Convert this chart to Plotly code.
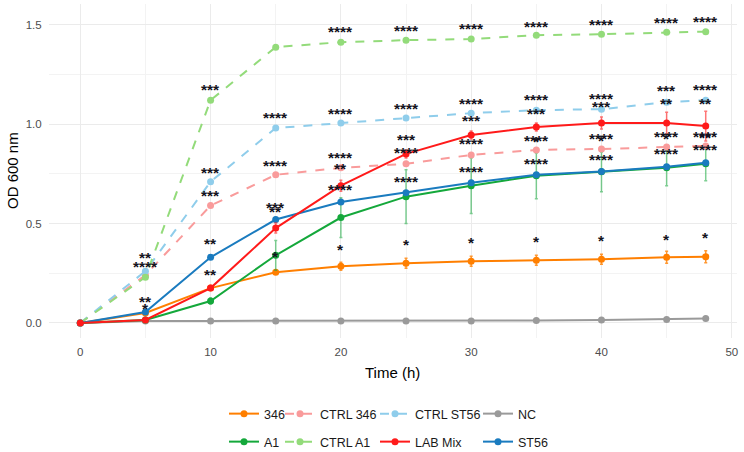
import plotly.graph_objects as go

time = [0, 5, 10, 15, 20, 25, 30, 35, 40, 45, 48]

series_names = ["346", "CTRL 346", "CTRL ST56", "NC", "A1", "CTRL A1", "LAB Mix", "ST56"]

v_346 = [0, 0.05, 0.175, 0.255, 0.285, 0.30, 0.31, 0.315, 0.32, 0.33, 0.333]
e_346 = [0, 0.005, 0.01, 0.01, 0.02, 0.025, 0.025, 0.025, 0.025, 0.03, 0.03]
v_ctrl346 = [0, 0.24, 0.59, 0.745, 0.78, 0.80, 0.845, 0.87, 0.875, 0.885, 0.89]
e_ctrl346 = [0, 0, 0, 0, 0, 0, 0, 0, 0, 0, 0]
v_ctrlst56 = [0, 0.26, 0.71, 0.98, 1.005, 1.03, 1.055, 1.07, 1.075, 1.11, 1.12]
e_ctrlst56 = [0, 0, 0, 0, 0, 0, 0, 0, 0, 0, 0]
v_nc = [0, 0.01, 0.01, 0.01, 0.01, 0.01, 0.01, 0.012, 0.014, 0.017, 0.022]
e_nc = [0, 0, 0, 0, 0, 0, 0, 0, 0, 0, 0]
v_a1 = [0, 0.015, 0.11, 0.34, 0.53, 0.635, 0.69, 0.74, 0.76, 0.78, 0.80]
e_a1 = [0, 0.005, 0.015, 0.075, 0.10, 0.135, 0.14, 0.115, 0.10, 0.09, 0.085]
v_ctrla1 = [0, 0.23, 1.12, 1.387, 1.412, 1.422, 1.428, 1.447, 1.452, 1.462, 1.465]
e_ctrla1 = [0, 0, 0, 0, 0, 0, 0, 0, 0, 0, 0]
v_lab = [0, 0.015, 0.175, 0.477, 0.69, 0.85, 0.945, 0.985, 1.005, 1.005, 0.99]
e_lab = [0, 0.003, 0.01, 0.025, 0.028, 0.02, 0.02, 0.02, 0.03, 0.055, 0.075]
v_st56 = [0, 0.055, 0.33, 0.52, 0.608, 0.655, 0.705, 0.745, 0.762, 0.786, 0.805]
e_st56 = [0, 0.005, 0.01, 0.01, 0.01, 0.01, 0.01, 0.01, 0.01, 0.01, 0.01]

values = [v_346, v_ctrl346, v_ctrlst56, v_nc, v_a1, v_ctrla1, v_lab, v_st56]
errors = [e_346, e_ctrl346, e_ctrlst56, e_nc, e_a1, e_ctrla1, e_lab, e_st56]
colors = ["#FF7F00", "#F99B9B", "#8FCDEB", "#9A9A9A", "#14A83B", "#93DB7A", "#FF1A1A", "#1A7BBF"]
err_colors = ["rgba(255,127,0,0.8)", "rgba(249,155,155,0.6)", "rgba(143,205,235,0.6)",
              "rgba(154,154,154,0.6)", "rgba(20,168,59,0.55)", "rgba(147,219,122,0.6)",
              "rgba(255,26,26,0.6)", "rgba(26,123,191,0.6)"]
dashes = ["solid", "dash", "dash", "solid", "solid", "dash", "solid", "solid"]

x_ticks = [0, 10, 20, 30, 40, 50]
y_ticks = [0, 0.5, 1.0, 1.5]
y_tick_labels = ["0.0", "0.5", "1.0", "1.5"]
x_title = "Time (h)"
y_title = "OD 600 nm"

# significance labels
ann_x = [5, 5, 5, 5,
         10, 10, 10, 10, 10,
         15, 15, 15, 15, 15,
         20, 20, 20, 20, 20, 20,
         25, 25, 25, 25, 25, 25,
         30, 30, 30, 30, 30, 30,
         35, 35, 35, 35, 35, 35, 35,
         40, 40, 40, 40, 40, 40, 40,
         45, 45, 45, 45, 45, 45, 45,
         48, 48, 48, 48, 48, 48, 48]
ann_y = [0.337, 0.296, 0.116, 0.080,
         1.186, 0.769, 0.653, 0.407, 0.251,
         1.045, 0.804, 0.593, 0.568, 0.342,
         1.477, 1.065, 0.844, 0.789, 0.683, 0.377,
         1.482, 1.090, 0.935, 0.869, 0.719, 0.402,
         1.492, 1.116, 1.030, 0.910, 0.774, 0.412,
         1.503, 1.136, 1.065, 0.930, 0.920, 0.814, 0.417,
         1.513, 1.141, 1.101, 0.940, 0.930, 0.834, 0.422,
         1.523, 1.181, 1.116, 0.950, 0.940, 0.864, 0.432,
         1.528, 1.186, 1.116, 0.950, 0.945, 0.884, 0.442]
ann_text = ["**", "****", "**", "*",
            "***", "***", "***", "**", "**",
            "****", "****", "***", "**", "*",
            "****", "****", "****", "**", "****", "*",
            "****", "****", "***", "****", "****", "*",
            "****", "****", "***", "****", "****", "*",
            "****", "****", "***", "****", "*", "****", "*",
            "****", "****", "***", "****", "*", "****", "*",
            "****", "***", "**", "****", "*", "****", "*",
            "****", "****", "**", "****", "**", "****", "*"]

FONT = "Liberation Sans, Arial, sans-serif"

fig = go.Figure()

# legend placement (container px)
leg_text_x = [265, 321, 416, 519, 265, 321, 416, 519]
leg_text_y = [414, 414, 414, 414, 442, 442, 442, 442]

draw_order = [3, 0, 4, 1, 2, 5, 7, 6]
for i in draw_order:
    lname = "legend" if i == 0 else f"legend{i+1}"
    fig.add_trace(go.Scatter(
        x=time, y=values[i], name=series_names[i],
        mode="lines+markers",
        line=dict(color=colors[i], width=2, dash=dashes[i]),
        marker=dict(color=colors[i], size=7),
        error_y=dict(type="data", array=errors[i], visible=True,
                     color=err_colors[i], thickness=1.5, width=1.5),
        legend=lname,
    ))

for x, y, t in zip(ann_x, ann_y, ann_text):
    fig.add_annotation(x=x, y=y, text="<b>" + t + "</b>", showarrow=False,
                       xanchor="center", yanchor="middle",
                       yshift=-2, font=dict(family=FONT, size=15.5, color="#141420"))

# axis titles
fig.add_annotation(xref="paper", yref="paper", x=(12 - 49) / 688, y=0.5, text=y_title,
                   textangle=-90, showarrow=False, xanchor="center", yanchor="middle",
                   font=dict(family=FONT, size=15, color="black"))
fig.add_annotation(xref="paper", yref="paper", x=(392 - 49) / 688, y=(338 - 372) / 334, text=x_title,
                   showarrow=False, xanchor="center", yanchor="middle",
                   font=dict(family=FONT, size=15, color="black"))

layout_legends = {}
for i in range(8):
    lname = "legend" if i == 0 else f"legend{i+1}"
    layout_legends[lname] = dict(
        xref="container", yref="container",
        x=(leg_text_x[i] - 41) / 744, y=1 - leg_text_y[i] / 452,
        xanchor="left", yanchor="middle",
        bgcolor="rgba(0,0,0,0)", borderwidth=0,
        font=dict(family=FONT, size=12.5, color="#1a1a1a"),
        itemwidth=30, orientation="v",
    )

fig.update_layout(
    width=744, height=452,
    margin=dict(l=49, r=7, t=4, b=114, autoexpand=False),
    paper_bgcolor="white", plot_bgcolor="white",
    font=dict(family=FONT),
    showlegend=True,
    **layout_legends,
)

fig.update_xaxes(
    range=[-2.4, 50.4], tickvals=x_ticks,
    showgrid=True, gridcolor="#EBEBEB", gridwidth=1,
    minor=dict(tickvals=[5, 15, 25, 35, 45], showgrid=True, gridcolor="#F3F3F3", gridwidth=1),
    zeroline=False, showline=False, ticks="outside", ticklen=3, tickcolor="rgba(0,0,0,0)",
    ticklabelposition="outside",
    tickfont=dict(family=FONT, size=11.5, color="#4D4D4D"),
)
fig.update_yaxes(
    range=[-0.076, 1.604], tickvals=y_ticks, ticktext=y_tick_labels,
    showgrid=True, gridcolor="#EBEBEB", gridwidth=1,
    minor=dict(tickvals=[0.25, 0.75, 1.25], showgrid=True, gridcolor="#F3F3F3", gridwidth=1),
    zeroline=False, showline=False, ticks="outside", ticklen=4, tickcolor="rgba(0,0,0,0)",
    ticklabelposition="outside",
    tickfont=dict(family=FONT, size=11.5, color="#4D4D4D"),
)

fig.write_html("out.html")
